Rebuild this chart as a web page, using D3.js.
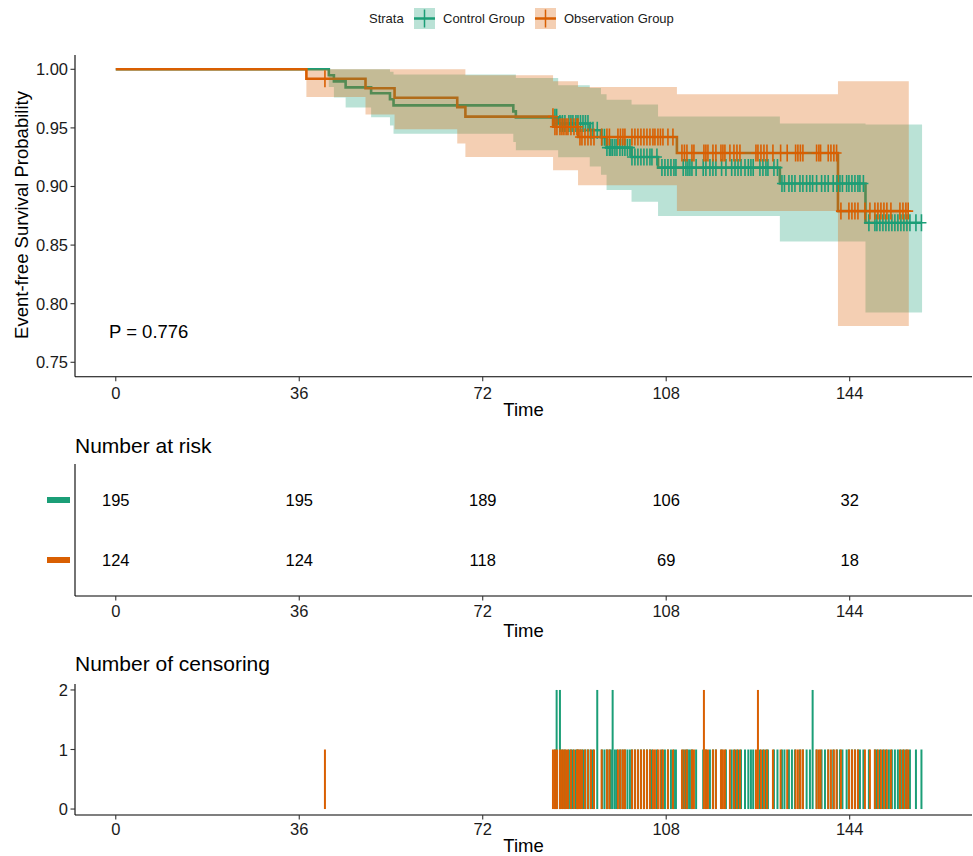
<!DOCTYPE html>
<html>
<head>
<meta charset="utf-8">
<script src="https://cdn.jsdelivr.net/npm/d3@7"></script>
<style>
  body { margin: 0; background: #fff; }
  svg { font-family: "Liberation Sans", Arial, sans-serif; }
</style>
</head>
<body>
<svg id="chart" width="973" height="856"></svg>
<script>
// ---- data ----
const groups = ["Control Group", "Observation Group"];
const colors = ["#1B9E77", "#D95F02"];
const timeTicks = [0, 36, 72, 108, 144];
const survTicks = [0.75, 0.80, 0.85, 0.90, 0.95, 1.00];
const censorTicks = [0, 1, 2];

// Kaplan-Meier steps (start time of each step)
const ctrlTime  = [0, 41.8, 42.8, 45.1, 50.1, 53.8, 54.5, 78.0, 78.5, 86.8, 93.0, 95.2, 96.3, 101.2, 106.4, 130.3, 147.1];
const ctrlSurv  = [1, 0.9949, 0.9897, 0.9846, 0.9795, 0.9744, 0.9692, 0.9641, 0.9590, 0.9537, 0.9480, 0.9420, 0.9332, 0.9252, 0.9161, 0.9025, 0.8690];
const ctrlUpper = [1, 1, 1, 1, 1, 0.998, 0.9955, 0.9955, 0.9926, 0.9863, 0.9840, 0.9787, 0.9740, 0.9700, 0.9598, 0.9537, 0.9530];
const ctrlLower = [1, 0.985, 0.976, 0.9673, 0.9591, 0.952, 0.9451, 0.938, 0.931, 0.925, 0.917, 0.910, 0.897, 0.887, 0.8748, 0.853, 0.7924];
const ctrlEnd = 158.2;

const obsTime  = [0, 37.4, 49.0, 54.7, 67.0, 68.6, 85.8, 90.7, 110.1, 141.7];
const obsSurv  = [1, 0.9919, 0.9838, 0.9757, 0.9677, 0.9596, 0.9510, 0.9422, 0.9286, 0.8790];
const obsUpper = [1, 1, 1, 1, 1, 0.9949, 0.9898, 0.9850, 0.9787, 0.9898];
const obsLower = [1, 0.9764, 0.9615, 0.9488, 0.9366, 0.9252, 0.9138, 0.9010, 0.8790, 0.7810];
const obsEnd = 155.6;

// censoring times: [time, count]
const ctrlCensor = [[86.17,1],[86.50,2],[87.15,2],[87.64,1],[88.13,1],[88.91,1],[89.31,1],[89.70,1],[90.29,1],
  [90.69,1],[91.18,1],[91.67,1],[92.16,1],[92.65,1],[93.14,1],[93.63,1],[94.47,2],[95.39,1],[95.88,1],[96.37,1],
  [96.86,1],[97.15,1],[97.49,2],[97.94,1],[98.34,1],[98.92,1],[99.41,1],[99.90,1],[100.39,1],[100.88,1],[101.28,1],
  [101.86,1],[102.45,1],[103.04,1],[103.63,1],[104.22,1],[104.81,1],[105.20,1],[106.18,1],[107.16,1],[107.75,1],
  [108.34,1],[108.93,1],[109.52,1],[109.91,1],[111.34,1],[111.87,1],[112.26,1],[112.65,1],[113.05,1],[113.87,1],
  [115.26,1],[115.79,1],[116.58,1],[117.17,1],[117.75,1],[118.87,1],[119.72,1],[120.85,1],[121.50,1],[122.09,1],
  [122.68,1],[123.46,1],[124.11,1],[124.62,1],[125.07,1],[126.39,1],[126.98,1],[127.57,1],[127.96,1],[129.14,1],
  [129.83,1],[130.71,1],[131.20,1],[132.08,1],[132.67,1],[133.26,1],[134.24,1],[134.82,1],[135.55,1],[136.20,1],
  [136.73,2],[137.51,1],[138.49,1],[139.15,1],[139.79,1],[140.77,1],[141.50,1],[142.09,1],[142.58,1],[143.40,1],
  [143.85,1],[144.44,1],[145.03,1],[145.62,1],[146.01,1],[146.69,1],[147.77,1],[148.95,1],[149.34,1],[149.93,1],
  [150.52,1],[151.11,1],[151.69,1],[152.28,1],[152.87,1],[153.46,1],[154.05,1],[154.64,1],[155.23,1],[155.82,1],
  [157.00,1],[158.08,1]];
const obsCensor = [[41.04,1],[85.78,1],[86.17,1],[86.56,1],[87.15,1],[87.54,1],[87.93,1],[88.36,1],[88.72,1],
  [89.31,1],[89.90,1],[90.49,1],[90.69,1],[91.08,1],[91.47,1],[92.06,1],[92.65,1],[93.24,1],[93.83,1],[95.33,1],
  [96.37,1],[96.86,1],[98.53,1],[99.02,1],[99.51,1],[99.90,1],[101.28,1],[101.86,1],[102.45,1],[103.04,1],
  [103.63,1],[104.22,1],[104.81,1],[105.40,1],[105.79,1],[106.38,1],[106.87,1],[107.36,1],[108.34,1],[109.32,1],
  [111.09,1],[111.58,1],[112.07,1],[113.05,1],[113.44,1],[115.40,2],[115.79,1],[116.19,1],[117.17,1],[117.75,1],
  [118.74,1],[119.13,1],[119.52,1],[120.50,1],[121.29,1],[121.88,1],[122.47,1],[125.61,1],[126.00,2],[126.59,1],
  [127.18,1],[127.77,1],[128.94,1],[130.45,1],[131.74,1],[133.39,1],[133.84,1],[134.33,1],[134.82,1],[137.51,1],
  [137.96,1],[138.29,1],[139.79,1],[140.32,1],[140.90,1],[141.43,1],[142.28,1],[143.85,1],[144.44,1],[145.03,1],
  [145.62,1],[146.99,1],[147.97,1],[148.95,1],[149.54,1],[150.13,1],[150.72,1],[151.30,1],[152.09,1],[153.86,1],
  [154.45,1],[155.03,1],[155.48,1]];

const ctrlRisk = [195, 195, 189, 106, 32];
const obsRisk  = [124, 124, 118, 69, 18];
const pValue = "P = 0.776";

// ---- build ----
const series = [
  {name: groups[0], color: colors[0], time: ctrlTime, surv: ctrlSurv, upper: ctrlUpper, lower: ctrlLower, end: ctrlEnd, censor: ctrlCensor, risk: ctrlRisk},
  {name: groups[1], color: colors[1], time: obsTime, surv: obsSurv, upper: obsUpper, lower: obsLower, end: obsEnd, censor: obsCensor, risk: obsRisk}
];

const svg = d3.select("#chart");
const left = 75, right = 972;
const x = d3.scaleLinear().domain([-8, 168]).range([left, right]);

const textCol = "#1a1a1a";

function xAxis(g, y0, labelY, titleY) {
  g.append("line").attr("x1", left).attr("x2", right).attr("y1", y0).attr("y2", y0)
    .attr("stroke", "#000").attr("stroke-width", 1.1);
  timeTicks.forEach(t => {
    g.append("line").attr("x1", x(t)).attr("x2", x(t)).attr("y1", y0).attr("y2", y0 + 4.5)
      .attr("stroke", "#333").attr("stroke-width", 1.1);
    g.append("text").attr("x", x(t)).attr("y", labelY).attr("text-anchor", "middle")
      .attr("font-size", "16.5px").attr("fill", textCol).text(t);
  });
  g.append("text").attr("x", (left + right) / 2).attr("y", titleY).attr("text-anchor", "middle")
    .attr("font-size", "18.5px").attr("fill", "#000").text("Time");
}

// ---------- legend ----------
const legend = svg.append("g");
legend.append("text").attr("x", 369).attr("y", 23).attr("font-size", "13px").attr("fill", textCol).text("Strata");
const legX = [414, 535];
series.forEach((s, i) => {
  const g = legend.append("g").attr("transform", `translate(${legX[i]},8)`);
  g.append("rect").attr("width", 21).attr("height", 21).attr("fill", s.color).attr("fill-opacity", 0.3);
  g.append("line").attr("x1", 0).attr("x2", 21).attr("y1", 10.5).attr("y2", 10.5)
    .attr("stroke", s.color).attr("stroke-width", 2.5);
  g.append("line").attr("x1", 10.5).attr("x2", 10.5).attr("y1", 1.5).attr("y2", 19.5)
    .attr("stroke", s.color).attr("stroke-width", 1.5);
  legend.append("text").attr("x", legX[i] + 29).attr("y", 23).attr("font-size", "13px")
    .attr("fill", textCol).text(s.name);
});

// ---------- survival plot ----------
const yTop = 55, yBot = 376.7;
const y = d3.scaleLinear().domain([0.7377, 1.0122]).range([yBot, yTop]);
const main = svg.append("g");

const lineGen = d3.line().x(d => x(d[0])).y(d => y(d[1])).curve(d3.curveStepAfter);
const areaGen = d3.area().x(d => x(d[0])).y0(d => y(d[1])).y1(d => y(d[2])).curve(d3.curveStepAfter);

function stepPoints(s) {
  const pts = s.time.map((t, i) => [t, s.surv[i], s.lower[i], s.upper[i]]);
  const last = pts[pts.length - 1];
  pts.push([s.end, last[1], last[2], last[3]]);
  return pts;
}
function bandPoints(s) {
  return stepPoints(s).map(p => [p[0], p[2], p[3]]);
}
function survAt(s, t) {
  const i = d3.bisectRight(s.time, t) - 1;
  return s.surv[Math.max(i, 0)];
}

// step lines sit under the ribbons, censor marks on top
series.forEach(s => {
  main.append("path").attr("d", lineGen(stepPoints(s))).attr("fill", "none")
    .attr("stroke", s.color).attr("stroke-width", 2.6);
});
series.forEach(s => {
  main.append("path").attr("d", areaGen(bandPoints(s))).attr("fill", s.color).attr("fill-opacity", 0.3);
});
series.forEach(s => {
  main.append("g").selectAll("path").data(s.censor).join("path")
    .attr("transform", d => `translate(${x(d[0])},${y(survAt(s, d[0]))})`)
    .attr("d", "M-5,0H5M0,-8.5V8.5")
    .attr("stroke", s.color).attr("stroke-width", 1.6).attr("fill", "none");
});

// y axis
main.append("line").attr("x1", left).attr("x2", left).attr("y1", yTop).attr("y2", yBot)
  .attr("stroke", "#000").attr("stroke-width", 1.1);
survTicks.forEach(v => {
  main.append("line").attr("x1", left - 4.5).attr("x2", left).attr("y1", y(v)).attr("y2", y(v))
    .attr("stroke", "#333").attr("stroke-width", 1.1);
  main.append("text").attr("x", left - 7).attr("y", y(v) + 6).attr("text-anchor", "end")
    .attr("font-size", "16.5px").attr("fill", textCol).text(v.toFixed(2));
});
xAxis(main, yBot, 398.5, 416);
main.append("text").attr("transform", `translate(28,215) rotate(-90)`).attr("text-anchor", "middle")
  .attr("font-size", "18.5px").attr("fill", "#000").text("Event-free Survival Probability");
main.append("text").attr("x", 109).attr("y", 338).attr("font-size", "18.5px").attr("fill", "#000").text(pValue);

// ---------- risk table ----------
const risk = svg.append("g");
risk.append("text").attr("x", 75).attr("y", 453).attr("font-size", "21px").attr("fill", "#000").text("Number at risk");
const riskTop = 464, riskBot = 596;
const yRisk = d3.scalePoint().domain(groups).range([500, 560]);
risk.append("line").attr("x1", left).attr("x2", left).attr("y1", riskTop).attr("y2", riskBot)
  .attr("stroke", "#000").attr("stroke-width", 1.1);
series.forEach(s => {
  risk.append("rect").attr("x", 47).attr("y", yRisk(s.name) - 3).attr("width", 23).attr("height", 6).attr("fill", s.color);
  s.risk.forEach((n, i) => {
    risk.append("text").attr("x", x(timeTicks[i])).attr("y", yRisk(s.name) + 6).attr("text-anchor", "middle")
      .attr("font-size", "16.5px").attr("fill", "#000").text(n);
  });
});
xAxis(risk, riskBot, 617, 637);

// ---------- censoring plot ----------
const cens = svg.append("g");
cens.append("text").attr("x", 75).attr("y", 671).attr("font-size", "21px").attr("fill", "#000").text("Number of censoring");
const cTop = 684, cBot = 815;
const yC = d3.scaleLinear().domain([-0.1, 2.1]).range([cBot, cTop]);
series.forEach(s => {
  cens.append("g").selectAll("line").data(s.censor).join("line")
    .attr("x1", d => x(d[0])).attr("x2", d => x(d[0]))
    .attr("y1", yC(0)).attr("y2", d => yC(d[1]))
    .attr("stroke", s.color).attr("stroke-width", 2);
});
cens.append("line").attr("x1", left).attr("x2", left).attr("y1", cTop).attr("y2", cBot)
  .attr("stroke", "#000").attr("stroke-width", 1.1);
censorTicks.forEach(v => {
  cens.append("line").attr("x1", left - 4.5).attr("x2", left).attr("y1", yC(v)).attr("y2", yC(v))
    .attr("stroke", "#333").attr("stroke-width", 1.1);
  cens.append("text").attr("x", left - 7).attr("y", yC(v) + 6).attr("text-anchor", "end")
    .attr("font-size", "16.5px").attr("fill", textCol).text(v);
});
xAxis(cens, cBot, 835, 852);
</script>
</body>
</html>
